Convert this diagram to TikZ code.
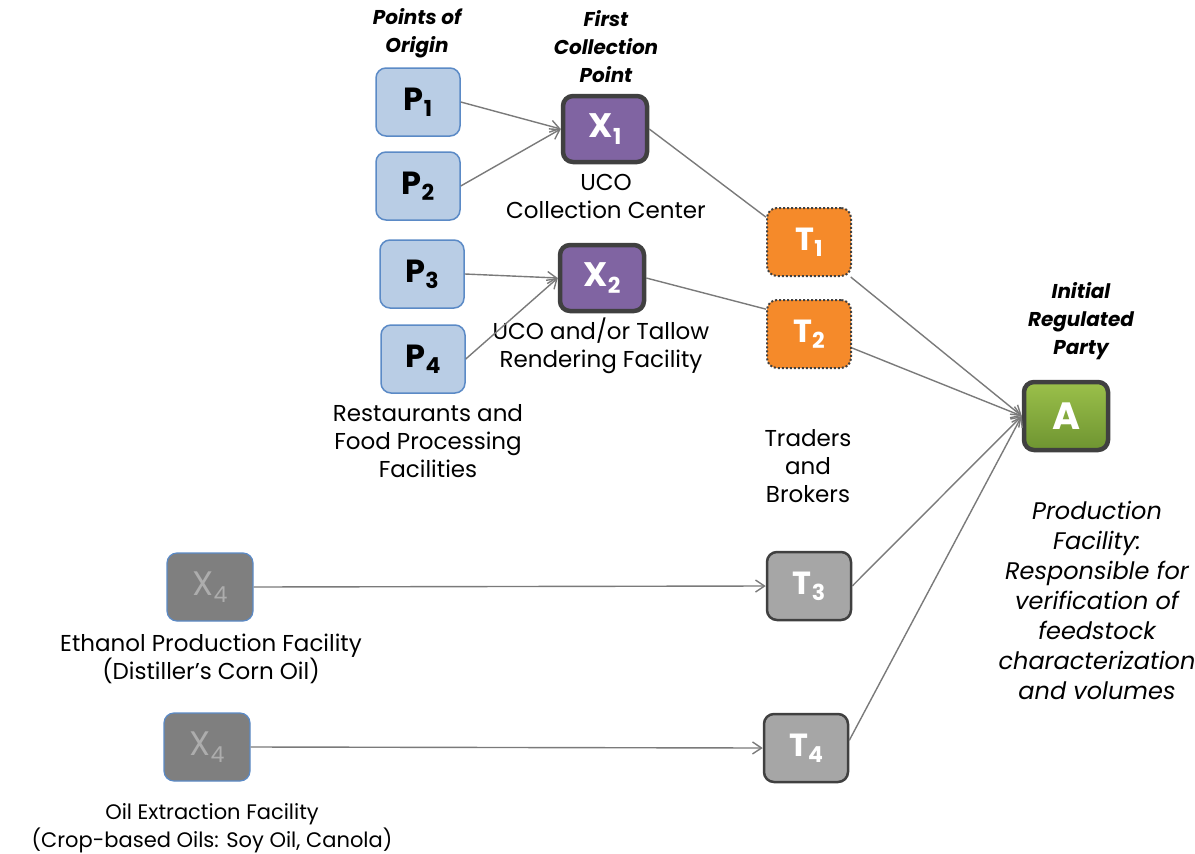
\documentclass[tikz,border=0pt]{standalone}
\usepackage{fontspec}
\setmainfont{Poppins}
\usetikzlibrary{arrows.meta}
\definecolor{pfill}{HTML}{B9CDE5}
\definecolor{pline}{HTML}{5B8AC6}
\definecolor{xfill}{HTML}{8064A2}
\definecolor{dark}{HTML}{404040}
\definecolor{tfill}{HTML}{F58A2A}
\definecolor{gtop}{HTML}{9BC04A}
\definecolor{gbot}{HTML}{6E9431}
\definecolor{gfill}{HTML}{7F7F7F}
\definecolor{gtext}{HTML}{ADADAD}
\definecolor{tgfill}{HTML}{A6A6A6}
\definecolor{arr}{HTML}{7A7A7A}
\newcommand{\sbs}[1]{\raisebox{-0.35ex}{\fontsize{22}{22}\selectfont #1}}
\begin{document}
\begin{tikzpicture}[x=1pt,y=-1pt,
  base/.style={rounded corners=10pt, minimum width=84pt, minimum height=68pt, inner sep=0pt},
  pbox/.style={base, fill=pfill, draw=pline, line width=1.5pt, font=\fontsize{32}{32}\selectfont\bfseries},
  xbox/.style={base, fill=xfill, draw=dark, line width=4.5pt, minimum width=84pt, minimum height=66pt, text=white, font=\fontsize{34}{34}\selectfont\bfseries},
  tbox/.style={base, fill=tfill, draw=dark, line width=2pt, dotted, text=white, font=\fontsize{32}{32}\selectfont\bfseries},
  abox/.style={base, top color=gtop, bottom color=gbot, draw=dark, line width=4.5pt, minimum width=84pt, minimum height=68pt, text=white, font=\fontsize{38}{38}\selectfont\bfseries},
  xgbox/.style={base, fill=gfill, draw=pline, line width=1.2pt, minimum width=86pt, text=gtext, font=\fontsize{34}{34}\selectfont},
  tgbox/.style={base, fill=tgfill, draw=dark, line width=2.5pt, text=white, font=\fontsize{32}{32}\selectfont\bfseries},
  lbl/.style={align=center, font=\fontsize{23}{28}\selectfont, inner sep=0pt},
  hdr/.style={align=center, font=\fontsize{20}{28}\selectfont\bfseries\itshape, inner sep=0pt},
  ilbl/.style={align=center, font=\fontsize{24}{30}\selectfont\itshape, inner sep=0pt},
  link/.style={draw=arr, line width=1.4pt},
  arrow/.style={link, -{Straight Barb[length=9pt,width=12pt,line width=1.4pt]}}
]
\useasboundingbox (0,0) rectangle (1195,854);

% nodes
\node[pbox] (P1) at (418,102) {P\sbs{1}};
\node[pbox] (P2) at (418,186) {P\sbs{2}};
\node[pbox] (P3) at (422,274) {P\sbs{3}};
\node[pbox] (P4) at (423,359) {P\sbs{4}};
\node[xbox] (X1) at (605,129) {X\sbs{1}};
\node[xbox] (X2) at (602,278) {X\sbs{2}};
\node[tbox] (T1) at (809,242) {T\sbs{1}};
\node[tbox] (T2) at (809,334) {T\sbs{2}};
\node[abox] (A) at (1066,416) {A};
\node[xgbox] (X4a) at (210,587) {X\sbs{4}};
\node[xgbox] (X4b) at (207,747) {X\sbs{4}};
\node[tgbox] (T3) at (809,586) {T\sbs{3}};
\node[tgbox] (T4) at (806,748) {T\sbs{4}};

% labels
\node[hdr] (hPO) at (417,33) {Points of\\Origin};
\node[hdr] (hFC) at (606,47) {First\\Collection\\Point};
\node[hdr] (hIR) at (1081,321) {Initial\\Regulated\\Party};
\node[lbl] (lX1) at (606,196) {UCO\\Collection Center};
\node[lbl] (lX2) at (601,346) {UCO and/or Tallow\\Rendering Facility};
\node[lbl] (lP) at (428,441) {Restaurants and\\Food Processing\\Facilities};
\node[lbl] (lT) at (808,466) {Traders\\and\\Brokers};
\node[lbl] (lE) at (211,659) {Ethanol Production Facility\\(Distiller’s Corn Oil)};
\node[lbl, font=\fontsize{21}{28}\selectfont] (lO) at (212,828) {Oil Extraction Facility\\(Crop-based Oils: Soy Oil, Canola)};
\node[ilbl] (lA) at (1097,600) {Production\\Facility:\\Responsible for\\verification of\\feedstock\\characterization\\and volumes};

% connectors
\draw[arrow] (P1.east) -- (X1.west);
\draw[arrow] (P2.east) -- (X1.west);
\draw[arrow] (P3.east) -- (X2.west);
\draw[arrow] (P4.east) -- (X2.west);
\draw[link] (X1.east) -- (T1.150);
\draw[link] (X2.east) -- (T2.150);
\draw[arrow] (T1.-40) -- (A.west);
\draw[arrow] (T2.-18) -- (A.west);
\draw[arrow] (T3.east) -- (A.west);
\draw[arrow] (T4.10) -- (A.west);
\draw[arrow] (X4a.east) -- (T3.west);
\draw[arrow] (X4b.east) -- (T4.west);
\end{tikzpicture}
\end{document}
